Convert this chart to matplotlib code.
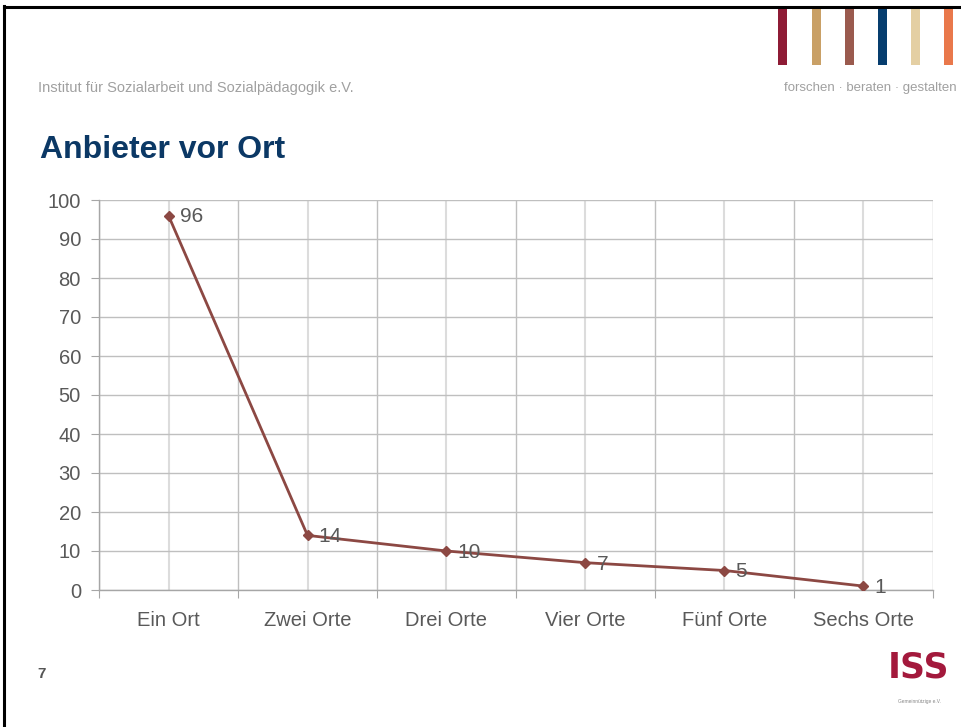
import numpy as np
import matplotlib
matplotlib.use("Agg")
import matplotlib.pyplot as plt
from matplotlib.lines import Line2D
from matplotlib.patches import Rectangle

plt.rcParams['font.family'] = ['Liberation Sans', 'DejaVu Sans']

# chart data
categories = ["Ein Ort", "Zwei Orte", "Drei Orte", "Vier Orte", "Fünf Orte", "Sechs Orte"]
values = [96, 14, 10, 7, 5, 1]
y_ticks = [0, 10, 20, 30, 40, 50, 60, 70, 80, 90, 100]

title = "Anbieter vor Ort"
header_left = "Institut für Sozialarbeit und Sozialpädagogik e.V."
header_right = "forschen · beraten · gestalten"
page_no = "7"
logo_colors = ["#8e1b35", "#c9a066", "#9a5a4e", "#063d6e", "#e4cfa3", "#e9784b"]

fig = plt.figure(figsize=(9.62, 7.27), dpi=100)
W, H = 962, 727

def fx(px):
    return px / W

def fy(py):
    return 1 - py / H

# slide frame (top and left edges)
fig.add_artist(Line2D([fx(4), fx(4)], [fy(6), 0], color="black", lw=2.2))
fig.add_artist(Line2D([fx(4), 1], [fy(7), fy(7)], color="black", lw=2.2))

# logo stripes at top right
for i, c in enumerate(logo_colors):
    xc = 783 + i * 33.2
    fig.add_artist(Rectangle((fx(xc - 4.5), fy(65)), 9 / W, 57 / H, color=c, lw=0))

fig.text(fx(38), fy(88), header_left, fontsize=10.5, color="#a0a0a0",
         ha="left", va="center")
fig.text(fx(957), fy(88), header_right, fontsize=9.5, color="#a0a0a0",
         ha="right", va="center")

fig.text(fx(40), fy(150), title, fontsize=23, fontweight="bold",
         color="#0b3865", ha="left", va="center")

fig.text(fx(37), fy(674), page_no, fontsize=11, fontweight="bold",
         color="#555555", ha="left", va="center")

# ISS logo approximation
fig.text(fx(919), fy(668), "ISS", fontsize=25, fontweight="bold",
         color="#a3193c", ha="center", va="center", family="DejaVu Sans")
fig.text(fx(919), fy(701), "Gemeinnützige e.V.", fontsize=3.5, color="#888888",
         ha="center", va="center")

# chart
ax = fig.add_axes([fx(99), fy(590), fx(933) - fx(99), fy(200) - fy(590)])
x = np.arange(len(categories))
ax.plot(x, values, color="#8c4843", lw=2, marker="D", markersize=5.5,
        markerfacecolor="#8c4843", markeredgecolor="#8c4843", zorder=5)

for xi, v in zip(x, values):
    ax.annotate(str(v), (xi, v), xytext=(8, -1), textcoords="offset points",
                ha="left", va="center", fontsize=15, color="#595959", zorder=6)

ax.set_xlim(-0.5, len(categories) - 0.5)
ax.set_ylim(0, 100)
ax.set_yticks(y_ticks)
ax.set_xticks(np.arange(len(categories) + 1) - 0.5)
ax.set_xticklabels([])
ax.set_xticks(x, minor=True)
ax.set_xticklabels(categories, minor=True)

ax.tick_params(axis="y", labelsize=14.5, labelcolor="#595959", color="#a6a6a6",
               length=6, pad=7)
ax.tick_params(axis="x", which="major", color="#a6a6a6", length=6)
ax.tick_params(axis="x", which="minor", length=0, labelsize=14.5,
               labelcolor="#595959", pad=15)

ax.grid(axis="y", color="#bfbfbf", lw=1)
ax.grid(axis="x", which="major", color="#bfbfbf", lw=1)
ax.grid(axis="x", which="minor", color="#dcdcdc", lw=1.5)
ax.set_axisbelow(True)

for s in ["top", "right"]:
    ax.spines[s].set_visible(False)
for s in ["left", "bottom"]:
    ax.spines[s].set_color("#a6a6a6")
    ax.spines[s].set_linewidth(1)

fig.savefig("out.png", dpi=100)
